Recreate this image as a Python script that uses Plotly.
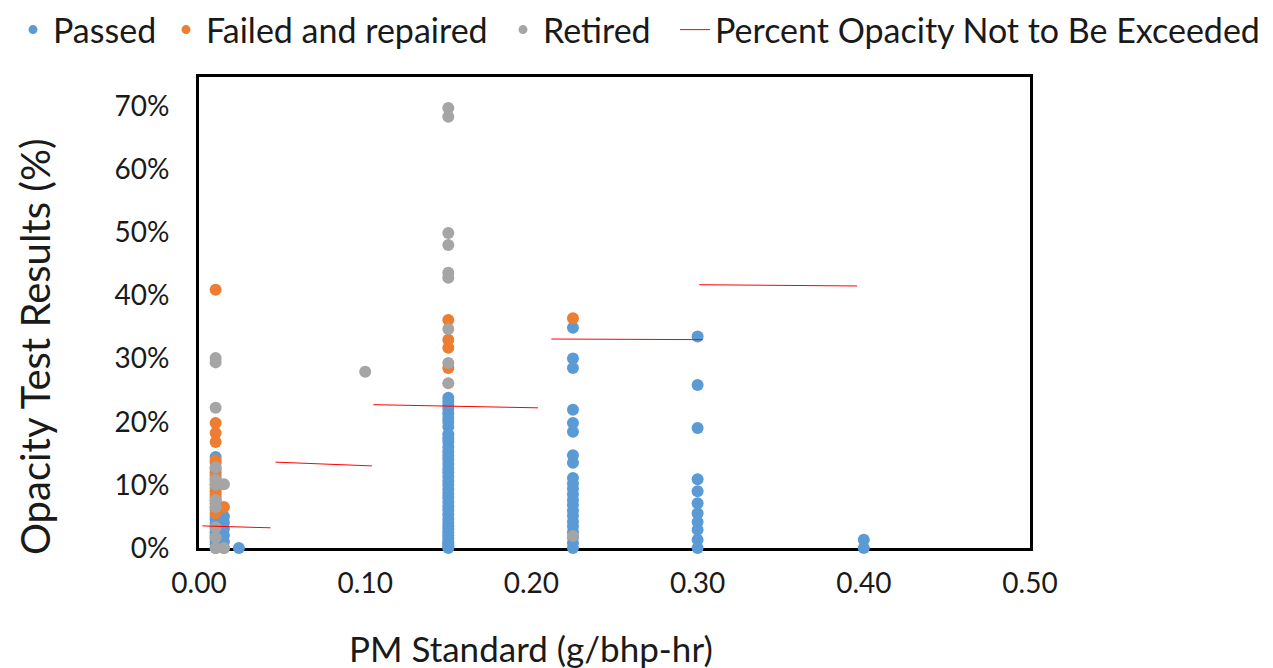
import plotly.graph_objects as go

# ---- data ----
passed_x = ([0.01] * 20 + [0.015] * 6 + [0.024] +
            [0.15] * 40 +
            [0.225] * 22 +
            [0.30] * 11 +
            [0.40] * 2)
passed_y = ([14.4, 13.5, 12.0, 11.0, 10.0, 9.0, 8.0, 7.0, 6.0, 5.0, 4.5, 4.0, 3.5, 3.0, 2.5, 2.0, 1.5, 1.0, 0.5, 0.0] +
            [5.0, 4.0, 3.0, 2.0, 1.0, 0.0] + [0.0] +
            [23.8, 23.2, 22.6, 22.0, 21.3, 20.6, 20.0, 19.2, 18.0, 17.4, 16.8, 16.0, 15.3, 14.6, 14.0, 13.3, 12.6, 12.0,
             11.3, 10.6, 10.0, 9.3, 8.6, 8.0, 7.3, 6.6, 6.0, 5.3, 4.6, 4.0, 3.5, 3.0, 2.5, 2.0, 1.5, 1.0, 0.7, 0.4, 0.2, 0.0] +
            [34.9, 30.0, 28.5, 21.9, 19.8, 18.4, 14.7, 13.5, 11.1, 10.2, 9.4, 8.5, 7.6, 6.8, 5.9, 5.1, 4.2, 3.4, 2.5, 1.7, 0.8, 0.0] +
            [33.5, 25.8, 19.0, 10.9, 9.0, 7.1, 5.5, 4.1, 2.9, 1.3, 0.0] +
            [1.3, 0.0])

failed_x = [0.01] * 13 + [0.015] + [0.15] * 4 + [0.225]
failed_y = ([40.9, 19.8, 18.2, 16.8, 13.9, 12.5, 11.5, 10.5, 9.5, 8.5, 7.5, 6.5, 5.5] +
            [6.5] + [36.1, 33.0, 31.7, 28.5] + [36.4])

retired_x = [0.01] * 11 + [0.015] * 2 + [0.10] + [0.15] * 9 + [0.225]
retired_y = ([30.1, 29.4, 22.2, 12.8, 10.8, 10.0, 7.6, 6.5, 3.3, 1.7, 0.0] +
             [10.1, 0.0] + [27.9] +
             [69.7, 68.3, 49.9, 48.0, 43.6, 42.8, 34.7, 29.3, 26.1] + [1.9])

limit_x = [0.002, 0.043, None, 0.046, 0.104, None, 0.105, 0.204, None, 0.212, 0.303, None, 0.301, 0.396]
limit_y = [3.5, 3.2, None, 13.6, 13.0, None, 22.7, 22.2, None, 33.1, 33.0, None, 41.7, 41.5]

x_ticks = [0.0, 0.1, 0.2, 0.3, 0.4, 0.5]
y_ticks = [0, 10, 20, 30, 40, 50, 60, 70]

BLUE = "#5B9BD5"
ORANGE = "#ED7D31"
GRAY = "#A5A5A5"
RED = "#FF0000"
FONT = "Lato"
TXT = "#1a1a1a"

# figure geometry (px); the page adds an 8px body margin
W, H = 1265, 660
L, T, PW, PH = 191, 69, 831, 471
R, B = W - L - PW, H - T - PH


def pct(vals):
    return [None if v is None else v / 100.0 for v in vals]


def px_x(fx):
    return (fx - L) / PW


def px_y(fy):
    return 1 - (fy - T) / PH


fig = go.Figure()
series = [("Passed", passed_x, passed_y, BLUE, "legend"),
          ("Failed and repaired", failed_x, failed_y, ORANGE, "legend2"),
          ("Retired", retired_x, retired_y, GRAY, "legend3")]
for name, xs, ys, col, leg in series:
    fig.add_trace(go.Scatter(x=xs, y=pct(ys), mode="markers", name=name,
                             marker=dict(color=col, size=12, line=dict(width=0)),
                             cliponaxis=False, showlegend=False, legendgroup=name))
    # small legend marker
    fig.add_trace(go.Scatter(x=[None], y=[None], mode="markers", name=name,
                             marker=dict(color=col, size=9), legendgroup=name, legend=leg))

fig.add_trace(go.Scatter(x=limit_x, y=pct(limit_y), mode="lines",
                         name="Percent Opacity Not to Be Exceeded",
                         line=dict(color=RED, width=1), connectgaps=False,
                         legend="legend4"))

legfont = dict(size=34, family=FONT, color=TXT)
leg_top = px_y(-7)


def leg(fx):
    return dict(orientation="h", x=px_x(fx), y=leg_top, xref="paper", yref="paper",
                xanchor="left", yanchor="top", font=legfont, bgcolor="rgba(0,0,0,0)")


fig.update_layout(
    width=W, height=H,
    margin=dict(l=L, r=R, t=T, b=B, autoexpand=False),
    paper_bgcolor="white", plot_bgcolor="white",
    font=dict(family=FONT, color=TXT),
    showlegend=True,
    legend=leg(5), legend2=leg(158), legend3=leg(495), legend4=leg(667),
    xaxis=dict(range=[0, 0.5], tickvals=x_ticks, tickformat=".2f",
               showgrid=False, zeroline=False, showline=True, linecolor="black",
               linewidth=3, mirror=True, ticks="", layer="below traces",
               tickfont=dict(size=28, family=FONT, color=TXT),
               ticklabelstandoff=8),
    yaxis=dict(range=[0, 0.746], tickvals=[v / 100 for v in y_ticks], tickformat=".0%",
               showgrid=False, zeroline=False, showline=True, linecolor="black",
               linewidth=3, mirror=True, ticks="", layer="below traces",
               tickfont=dict(size=28, family=FONT, color=TXT),
               ticklabelstandoff=21),
    annotations=[
        dict(text="PM Standard (g/bhp-hr)", xref="paper", yref="paper",
             x=px_x(523), y=px_y(640), xanchor="center", yanchor="middle",
             showarrow=False, font=dict(size=35, family=FONT, color=TXT)),
        dict(text="Opacity Test Results (%)", xref="paper", yref="paper",
             x=px_x(27), y=px_y(339), xanchor="center", yanchor="middle", textangle=-90,
             showarrow=False, font=dict(size=40, family=FONT, color=TXT)),
    ],
)

fig.write_html("out.html")
